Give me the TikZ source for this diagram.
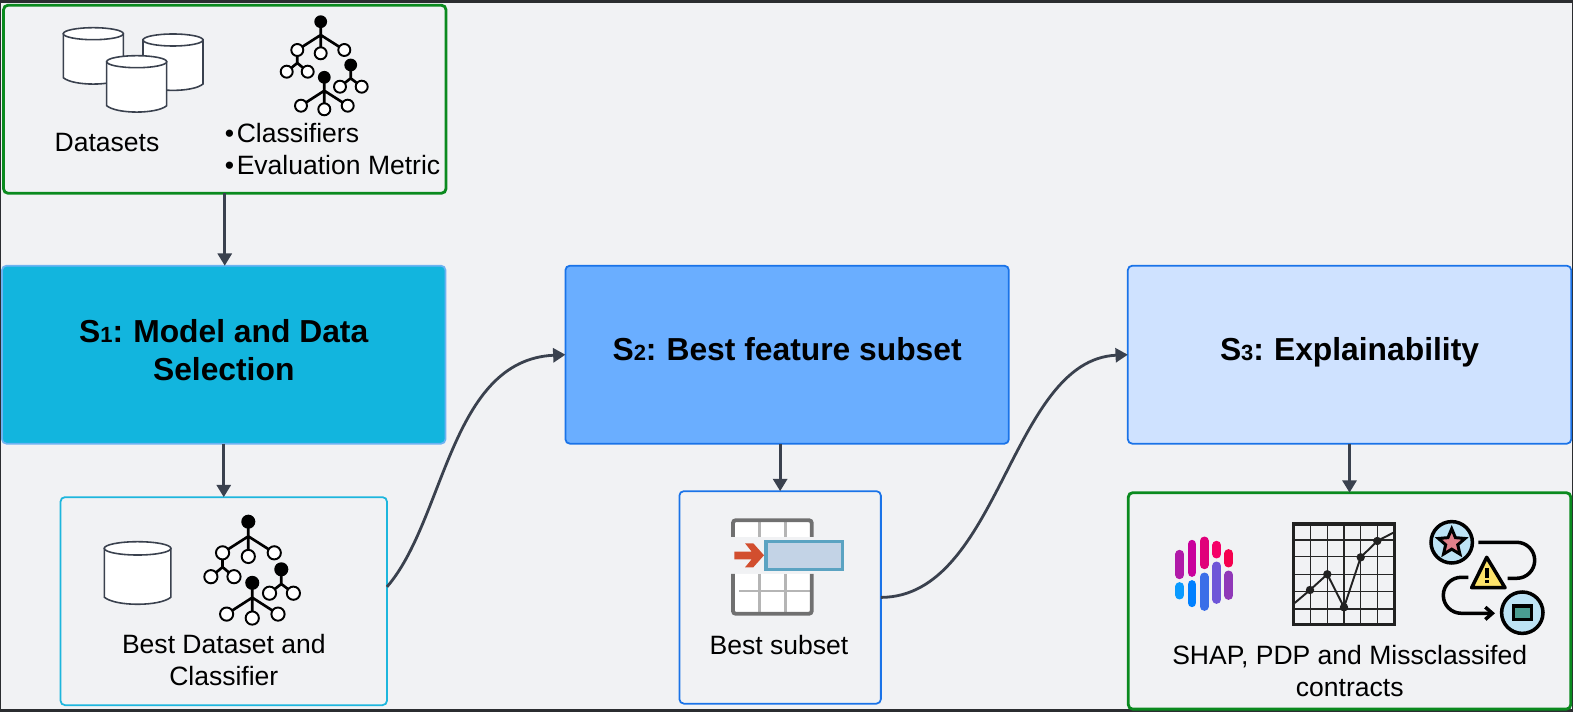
\documentclass[tikz,border=0pt]{standalone}
\usepackage{fontspec}
\usepackage{xcolor}
\setmainfont{Liberation Sans}
\usetikzlibrary{positioning,arrows.meta,calc,shapes.geometric}

\definecolor{pagebg}{HTML}{F1F2F4}
\definecolor{pageedge}{HTML}{2B2D30}
\definecolor{arrowgray}{HTML}{3A414E}
\definecolor{okgreen}{HTML}{0A8A1E}
\definecolor{lineblue}{HTML}{1A73E8}
\definecolor{linecyan}{HTML}{1DB6DD}
\definecolor{stageone}{HTML}{12B5DE}
\definecolor{stageoneline}{HTML}{6DB3F2}
\definecolor{stagetwo}{HTML}{6AAEFF}
\definecolor{stagethree}{HTML}{CFE2FF}
\definecolor{gridgray}{HTML}{B5B5B5}
\definecolor{framegray}{HTML}{707070}
\definecolor{subsetfill}{HTML}{C3D3E6}
\definecolor{subsetline}{HTML}{5BA3C2}
\definecolor{subsetarrow}{HTML}{D24E2E}
\definecolor{flowblue}{HTML}{BDE3F5}
\definecolor{flowpink}{HTML}{E0808A}
\definecolor{flowyellow}{HTML}{FDE36A}
\definecolor{flowteal}{HTML}{4A9D92}
\definecolor{barA}{HTML}{B01AA8}
\definecolor{barB}{HTML}{C9009C}
\definecolor{barC}{HTML}{E0007A}
\definecolor{barD}{HTML}{F50068}
\definecolor{barE}{HTML}{F5004E}
\definecolor{barF}{HTML}{0A9BFF}
\definecolor{barG}{HTML}{0080FF}
\definecolor{barH}{HTML}{3A6EE8}
\definecolor{barI}{HTML}{6E55D8}
\definecolor{barJ}{HTML}{9038B8}

\newcommand{\stagenum}[1]{{\fontsize{12.5}{15}\selectfont #1}:\kern-1pt\relax}

\begin{document}
\begin{tikzpicture}[x=0.02cm, y=-0.02cm,
    box/.style={draw, rectangle, outer sep=0pt, rounded corners=2.5pt, line width=1pt},
    greenbox/.style={box, draw=okgreen, line width=1.6pt, minimum width=8.85cm},
    stagebox/.style={box, minimum width=8.87cm, minimum height=3.56cm, align=center, text=black,
        font=\fontsize{18.1}{21.8}\bfseries\selectfont, text depth=6.5pt},
    txt/.style={anchor=base, align=center, text=black, inner sep=0pt, font=\fontsize{15.1}{18.3}\selectfont},
    arr/.style={-{Triangle[length=7pt, width=8pt]}, line width=1.6pt, draw=arrowgray},
    dbline/.style={draw=arrowgray, line width=0.9pt, fill=white},
    treeline/.style={black, line width=1.5pt},
    treeleaf/.style={draw=black, fill=white, line width=1.1pt},
    iconline/.style={draw=black, line width=2pt},
    dbicon/.pic={
        \path[dbline] (0,6) -- (0,50) .. controls (10,58.5) and (50,58.5) .. (60,50) -- (60,6) -- cycle;
        \path[dbline] (30,6) ellipse[x radius=30, y radius=6];
    },
    treeicon/.pic={
        \draw[treeline] (0,0) -- (0,13.3) -- (-23.4,28.3) (0,13.3) -- (0,31.6) (0,13.3) -- (23.6,28.3);
        \draw[treeline] (-23.4,28.3) -- (-23.4,41.3) -- (-34,50) (-23.4,41.3) -- (-13,50);
        \draw[treeline] (3.6,55.6) -- (3.6,69) -- (-19.7,84) (3.6,69) -- (3.6,87.6) (3.6,69) -- (27,84);
        \draw[treeline] (30,43.3) -- (30,56.6) -- (19.3,65) (30,56.6) -- (41,65);
        \foreach \cx/\cy in {0/0, 3.6/55.6, 30/43.3}
            \fill[black] (\cx,\cy) circle[radius=6.4];
        \foreach \cx/\cy in {-23.4/28.3, 0/31.6, 23.6/28.3, -34/50, -13/50, -19.7/84, 3.6/87.6, 27/84, 19.3/65, 41/65}
            \path[treeleaf] (\cx,\cy) circle[radius=6];
    },
]
\useasboundingbox (0,0) rectangle (1573,712);

% Page
\fill[pageedge] (0,0) rectangle (1573,712);
\fill[pagebg] (1,3) rectangle (1572,709.3);

% Stages
\node[stagebox, fill=stageone, draw=stageoneline, text depth=5.4pt] (s1) at (223.75,354.7) {S\stagenum{1} Model and Data\\Selection};
\node[stagebox, fill=stagetwo, draw=lineblue, right=2.4cm of s1] (s2) {S\stagenum{2} Best feature subset};
\node[stagebox, fill=stagethree, draw=lineblue, right=2.38cm of s2] (s3) {S\stagenum{3} Explainability};

% Inputs
\node[greenbox, minimum height=3.76cm, above=1.45cm of s1, xshift=0.02cm] (inputs) {};

% Outputs
\node[box, draw=linecyan, minimum width=6.53cm, minimum height=4.16cm, below=1.07cm of s1] (bestdata) {};
\node[box, draw=lineblue, minimum width=4.03cm, minimum height=4.25cm, below=0.95cm of s2, xshift=-0.14cm] (bestsub) {};
\node[greenbox, minimum height=4.33cm, below=0.98cm of s3] (results) {};

% Input icons and labels
\pic at (63.3,27.7) {dbicon};
\pic at (143,34) {dbicon};
\pic at (106.7,55.7) {dbicon};
\pic at (320.7,21.7) {treeicon};
\node[txt] (datasets) at (107,151.7) {Datasets};
\node[txt, anchor=base west] (classifiers) at (224.5,142.7) {\textbullet\kern1.5pt Classifiers};
\node[txt, anchor=base west] (metric) at (224.5,175) {\textbullet\kern1.5pt Evaluation Metric};

% Best dataset
\pic[scale=1.11] at (104.3,541.7) {dbicon};
\pic[scale=1.1] at (248.3,521.7) {treeicon};
\node[txt] (bestdatalabel) at (223.8,685.7) {Best Dataset and\\Classifier};

% Best subset icon
\fill[white] (733,520) rectangle (812,537) (733,574) rectangle (812,614);
\draw[gridgray, line width=1.7pt] (759,522) -- (759,537) (785,522) -- (785,537)
    (759,574) -- (759,612) (785,574) -- (785,612) (739.3,591) -- (810,591);
\draw[framegray, line width=2.2pt, rounded corners=1.5pt] (733,537) |- (811.7,520.3) -- (811.7,537);
\draw[framegray, line width=2.2pt, rounded corners=1.5pt] (733,574) |- (811.7,613.7) -- (811.7,574);
\draw[fill=subsetfill, draw=subsetline, line width=1.8pt] (766,541.3) rectangle (842.7,569.3);
\fill[subsetarrow] (734.3,551.7) -- (751.7,551.7) -- (745,543.3) -- (753.3,543.3) -- (764,555.3)
    -- (753.3,567.3) -- (745,567.3) -- (751.7,559.3) -- (734.3,559.3) -- cycle;
\node[txt] (bestsublabel) at (779,655) {Best subset};

% Shap icon
\foreach \bx/\by/\bz/\bc in {1179.7/554.2/574.8/barA, 1192/544.2/572.5/barB, 1204.3/540.9/564.8/barC,
    1216.7/545.2/554.1/barD, 1228.7/553.5/563.1/barE, 1179.7/586.5/595.1/barF, 1192/584.5/602.8/barG,
    1204.3/576.9/606.5/barH, 1216.7/565.9/599.5/barI, 1228.7/574.9/595.5/barJ}
    \draw[\bc, line width=5pt, line cap=round] (\bx,\by) -- (\bx,\bz);

% Pdp icon
\foreach \gx in {1310.7,1327.3,1344,1360.7,1377.3}
    \draw[black!85, line width=0.7pt] (\gx,524) -- (\gx,624.7);
\foreach \gy in {540,556.7,574.3,591.7,609}
    \draw[black!85, line width=0.7pt] (1293.7,\gy) -- (1394.3,\gy);
\draw[black!87, line width=2pt] (1293.7,524) rectangle (1394.3,624.7);
\draw[black!87, line width=1.1pt] (1294.7,603) -- (1310,590) -- (1327.3,574.3) -- (1344,607.3) -- (1360.7,557.3) -- (1377.3,541) -- (1393.3,532.7);
\foreach \px/\py in {1310/590, 1327.3/574.3, 1344/607.3, 1360.7/557.3, 1377.3/541}
    \fill[black!87] (\px,\py) circle[radius=4.2];

% Missclassified icon
\draw[iconline, rounded corners=0.36cm] (1478.3,542.3) -| (1534.7,578.3) -- (1507.7,578.3);
\draw[iconline, rounded corners=0.36cm, -{Straight Barb[length=4pt, width=7pt]}] (1468.3,577.3) -| (1443.3,613.3) -- (1495,613.3);
\draw[iconline, fill=flowblue] (1451.7,542.3) circle[radius=20.7];
\node[star, star points=5, star point ratio=2.2, minimum size=0.56cm, inner sep=0pt, draw=black, line width=1.7pt, fill=flowpink] (flowstar) at (1451.7,542.8) {};
\draw[iconline, fill=flowyellow, line join=round] (1486.7,557.3) -- (1505,587.7) -- (1471.7,587.7) -- cycle;
\draw[black, line width=2.2pt] (1486.7,568.3) -- (1486.7,578.3) (1486.7,580) -- (1486.7,583);
\draw[iconline, fill=flowblue] (1522.3,612.7) circle[radius=20.7];
\draw[iconline, fill=flowteal] (1513.3,606) rectangle (1531.7,619.7);

\node[txt] (resultslabel) at (1349.7,697) {SHAP, PDP and Missclassifed\\contracts};

% Arrows
\draw[arr] (inputs) -- (inputs |- s1.north);
\draw[arr] (s1.south -| bestdata) -- (bestdata);
\draw[arr] (s2.south -| bestsub) -- (bestsub);
\draw[arr] (s3) -- (s3 |- results.north);
\draw[arr] (bestdata.5) .. controls (445,520) and (450,360) .. (s2.west);
\draw[arr] (bestsub.east) .. controls (1000,597) and (1010,360) .. (s3.west);
\end{tikzpicture}
\end{document}
